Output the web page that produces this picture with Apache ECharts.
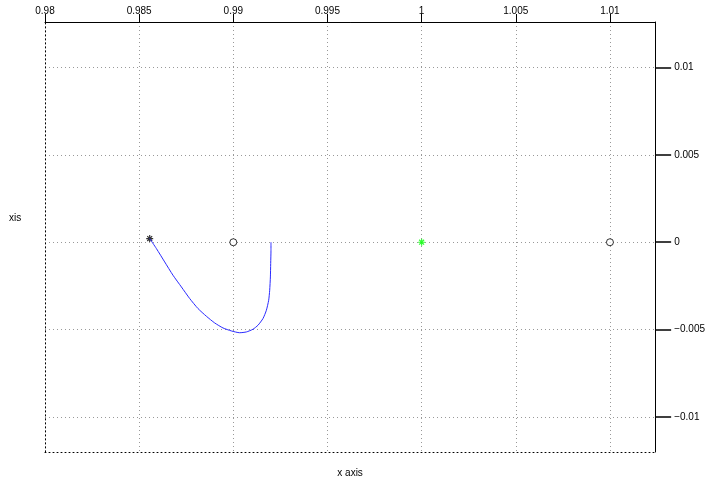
<!DOCTYPE html>
<html>
<head>
<meta charset="utf-8">
<script src="https://cdn.jsdelivr.net/npm/echarts@6/dist/echarts.min.js"></script>
<style>html,body{margin:0;padding:0;background:#fff;}#c{width:708px;height:483px;}</style>
</head>
<body>
<div id="c"></div>
<script>
const curveX = [0.98556, 0.985915, 0.986356, 0.986797, 0.987243, 0.987684, 0.988124, 0.98857, 0.989011, 0.989452, 0.989898, 0.990339, 0.990694, 0.991045, 0.99131, 0.991576, 0.991756, 0.991878, 0.991932, 0.991969, 0.991985, 0.992, 0.992];
const curveY = [0.000212, -0.00036, -0.001127, -0.001888, -0.002557, -0.003221, -0.003793, -0.004234, -0.004617, -0.004903, -0.005074, -0.005177, -0.005132, -0.004977, -0.004748, -0.004365, -0.00389, -0.003318, -0.002746, -0.001985, -0.001219, -0.000458, 0];
const startPoint = [0.98556, 0.000212];
const circlePoints = [[0.99, 0], [1.01, 0]];
const centerPoint = [1, 0];
const xMin = 0.98, xMax = 1.0124, xStep = 0.005;
const yMin = -0.012, yMax = 0.0126;
const yTicks = [-0.01, -0.005, 0, 0.005, 0.01];
const xLabel = 'x axis';
const yLabel = 'xis';

const FONT = 'Liberation Sans, Arial, sans-serif';
const asterisk = 'path://M0,5 L10,5 M5,0 L5,10 M1.5,1.5 L8.5,8.5 M8.5,1.5 L1.5,8.5';
const chart = echarts.init(document.getElementById('c'), null, {renderer: 'canvas'});
const fmt = v => {
  if (Math.abs(v) < 1e-12) return '0';
  let s = (+v.toFixed(6)).toString();
  return s.replace('-', '\u2212');
};
chart.setOption({
  animation: false,
  backgroundColor: '#fff',
  grid: {left: 45, right: 52, top: 22, bottom: 31, containLabel: false},
  xAxis: [{
    type: 'value', position: 'top', min: xMin, max: xMax, interval: xStep,
    axisLine: {show: true, onZero: false, lineStyle: {color: '#000', width: 1}},
    axisTick: {show: true, length: 8, inside: false, lineStyle: {color: '#000'}},
    axisLabel: {show: true, margin: 6, color: '#000', fontFamily: FONT, fontSize: 10, formatter: fmt,
      showMaxLabel: false},
    splitLine: {show: true, lineStyle: {color: '#999', type: [1, 3], width: 1}}
  }, {
    type: 'value', position: 'bottom', min: xMin, max: xMax,
    axisLine: {show: true, onZero: false, lineStyle: {color: '#000', type: [1, 3], width: 1}},
    axisTick: {show: false}, axisLabel: {show: false}, splitLine: {show: false},
    name: xLabel, nameLocation: 'middle', nameGap: 16,
    nameTextStyle: {color: '#000', fontFamily: FONT, fontSize: 10}
  }],
  yAxis: [{
    type: 'value', position: 'right', min: yMin, max: yMax,
    axisLine: {show: true, onZero: false, lineStyle: {color: '#000', width: 1}},
    axisTick: {show: true, length: 16, inside: false, customValues: yTicks, lineStyle: {color: '#000', width: 1.5}},
    axisLabel: {show: true, margin: 19, color: '#000', fontFamily: FONT, fontSize: 10, formatter: fmt,
      customValues: yTicks},
    splitLine: {show: true, lineStyle: {color: '#999', type: [1, 3], width: 1}}
  }, {
    type: 'value', position: 'left', min: yMin, max: yMax,
    axisLine: {show: true, onZero: false, lineStyle: {color: '#000', type: [1, 3], width: 1}},
    axisTick: {show: false}, axisLabel: {show: false}, splitLine: {show: false}
  }],
  graphic: [{
    type: 'text', left: 9, top: 213,
    style: {text: yLabel, fill: '#000', font: '10px ' + FONT}
  }],
  series: [{
    type: 'line', xAxisIndex: 0, yAxisIndex: 0,
    data: curveX.map((x, i) => [x, curveY[i]]),
    smooth: 0.2, showSymbol: false, symbol: 'none',
    lineStyle: {color: '#2a2aff', width: 1}
  }, {
    type: 'scatter', xAxisIndex: 0, yAxisIndex: 0,
    data: [startPoint], symbol: asterisk, symbolSize: 7,
    itemStyle: {color: 'rgba(0,0,0,0)', borderColor: '#000', borderWidth: 1.2}
  }, {
    type: 'scatter', xAxisIndex: 0, yAxisIndex: 0,
    data: circlePoints, symbol: 'circle', symbolSize: 7,
    itemStyle: {color: '#fff', borderColor: '#000', borderWidth: 1}
  }, {
    type: 'scatter', xAxisIndex: 0, yAxisIndex: 0,
    data: [centerPoint], symbol: asterisk, symbolSize: 7,
    itemStyle: {color: 'rgba(0,0,0,0)', borderColor: '#00ff00', borderWidth: 1.2}
  }]
});
</script>
</body>
</html>
